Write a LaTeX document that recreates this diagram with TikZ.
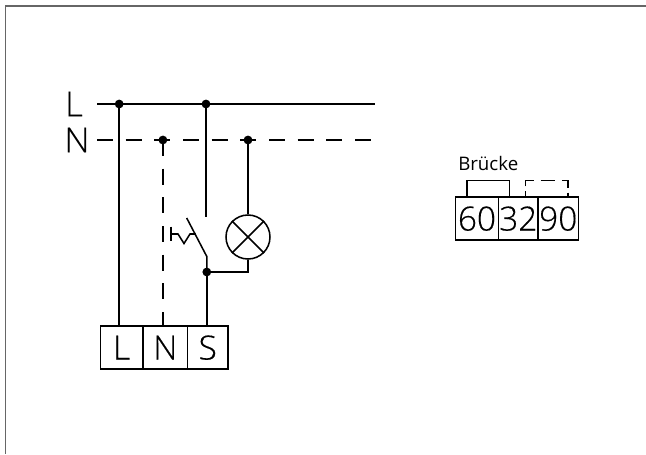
\documentclass[tikz,border=0pt]{standalone}
\usepackage{fontspec}
\setmainfont[FakeBold=0.35]{Open Sans Light}
\newfontfamily\brfont{Open Sans}
\tikzset{
  wire/.style={draw=black,line width=1.15pt},
  dwire/.style={draw=black,line width=1.15pt,dash pattern=on 12pt off 9.5pt},
  frameline/.style={draw=black!60,line width=0.9pt},
  dotnode/.style={circle,fill=black,inner sep=0pt,minimum size=6.6pt},
  termbox/.style={draw=black,line width=1.15pt,inner sep=0pt,minimum height=32.4pt,anchor=south west,font=\fontsize{25pt}{25pt}\selectfont},
  bigtext/.style={inner sep=0pt,font=\fontsize{26pt}{26pt}\selectfont},
  smalltext/.style={inner sep=0pt,anchor=base west,font=\brfont\fontsize{14pt}{14pt}\selectfont},
  lampnode/.style={circle,draw=black,line width=1.15pt,minimum size=33pt,inner sep=0pt}
}
\begin{document}
\begin{tikzpicture}[x=0.75pt,y=-0.75pt]
\useasboundingbox (0,0) rectangle (646,454);
\coordinate (fa) at (646,6);
\coordinate (fb) at (5.5,6);
\coordinate (fc) at (5.5,454);
\draw[frameline] (fa) -- (fb) -- (fc);
% labels
\node[bigtext] (tl) at (74,104) {L};
\node[bigtext] (tn) at (77,140) {N};
% rails
\coordinate (ls) at (97,104);
\coordinate (le) at (375,104);
\coordinate (ns) at (97,140);
\coordinate (ne) at (375,140);
\draw[wire] (ls) -- (le);
\draw[dwire] (ns) -- (ne);
% dots
\node[dotnode] (d1) at (119.2,104) {};
\node[dotnode] (d2) at (206,104) {};
\node[dotnode] (d3) at (162.9,140) {};
\node[dotnode] (d4) at (248,140) {};
\node[dotnode] (d5) at (206.8,272) {};
% terminals
\node[termbox,minimum width=32.1pt] (tL) at (99.5,370) {L};
\node[termbox,minimum width=33.3pt] (tN) at (142.3,370) {N};
\node[termbox,minimum width=30.4pt] (tS) at (186.7,370) {S};
% wires
\coordinate (wL) at (119.2,326.7);
\coordinate (wN) at (162.9,326.7);
\coordinate (wS) at (206.8,326.7);
\draw[wire] (d1.center) -- (wL);
\draw[dwire] (d3.center) -- (wN);
\draw[wire] (d5.center) -- (wS);
% switch
\coordinate (c1) at (206,217);
\coordinate (b1) at (186.7,218);
\coordinate (b2) at (206.8,256.5);
\draw[wire] (d2.center) -- (c1);
\draw[wire] (b1) -- (b2) -- (d5.center);
% actuator
\coordinate (a1) at (171,226.5);
\coordinate (a2) at (171,241);
\coordinate (a3) at (171,234);
\coordinate (a4) at (178,234);
\coordinate (a5) at (184,243.5);
\coordinate (a6) at (190,234);
\coordinate (a7) at (195.5,234);
\draw[wire] (a1) -- (a2);
\draw[wire] (a3) -- (a4) -- (a5) -- (a6) -- (a7);
% lamp
\node[lampnode] (lamp) at (248,237) {};
\draw[wire] (lamp.north west) -- (lamp.south east);
\draw[wire] (lamp.north east) -- (lamp.south west);
\draw[wire] (d4.center) -- (lamp.north);
\coordinate (corner) at (248,272);
\draw[wire] (lamp.south) -- (corner) -- (d5.center);
% right block
\node[termbox,minimum width=32.2pt] (b60) at (454.7,241) {60};
\node[termbox,minimum width=29.7pt] (b32) at (497.7,241) {32};
\node[termbox,minimum width=30.3pt] (b90) at (537.3,241) {90};
\node[smalltext] (bt) at (458,170) {Brücke};
\coordinate (s1) at (467,197.7);
\coordinate (s2) at (467,180.7);
\coordinate (s3) at (509.3,180.7);
\coordinate (s4) at (509.3,197.7);
\draw[wire] (s1) -- (s2) -- (s3) -- (s4);
\coordinate (q1) at (525.5,197.7);
\coordinate (q2) at (525.5,180.7);
\coordinate (q3) at (568,180.7);
\coordinate (q4) at (568,197.7);
\draw[wire,dash pattern=on 5pt off 3.5pt on 10.5pt off 5pt on 11pt off 5pt on 10pt off 3.5pt on 5pt off 5pt] (q1) -- (q2) -- (q3) -- (q4);
\end{tikzpicture}
\end{document}
